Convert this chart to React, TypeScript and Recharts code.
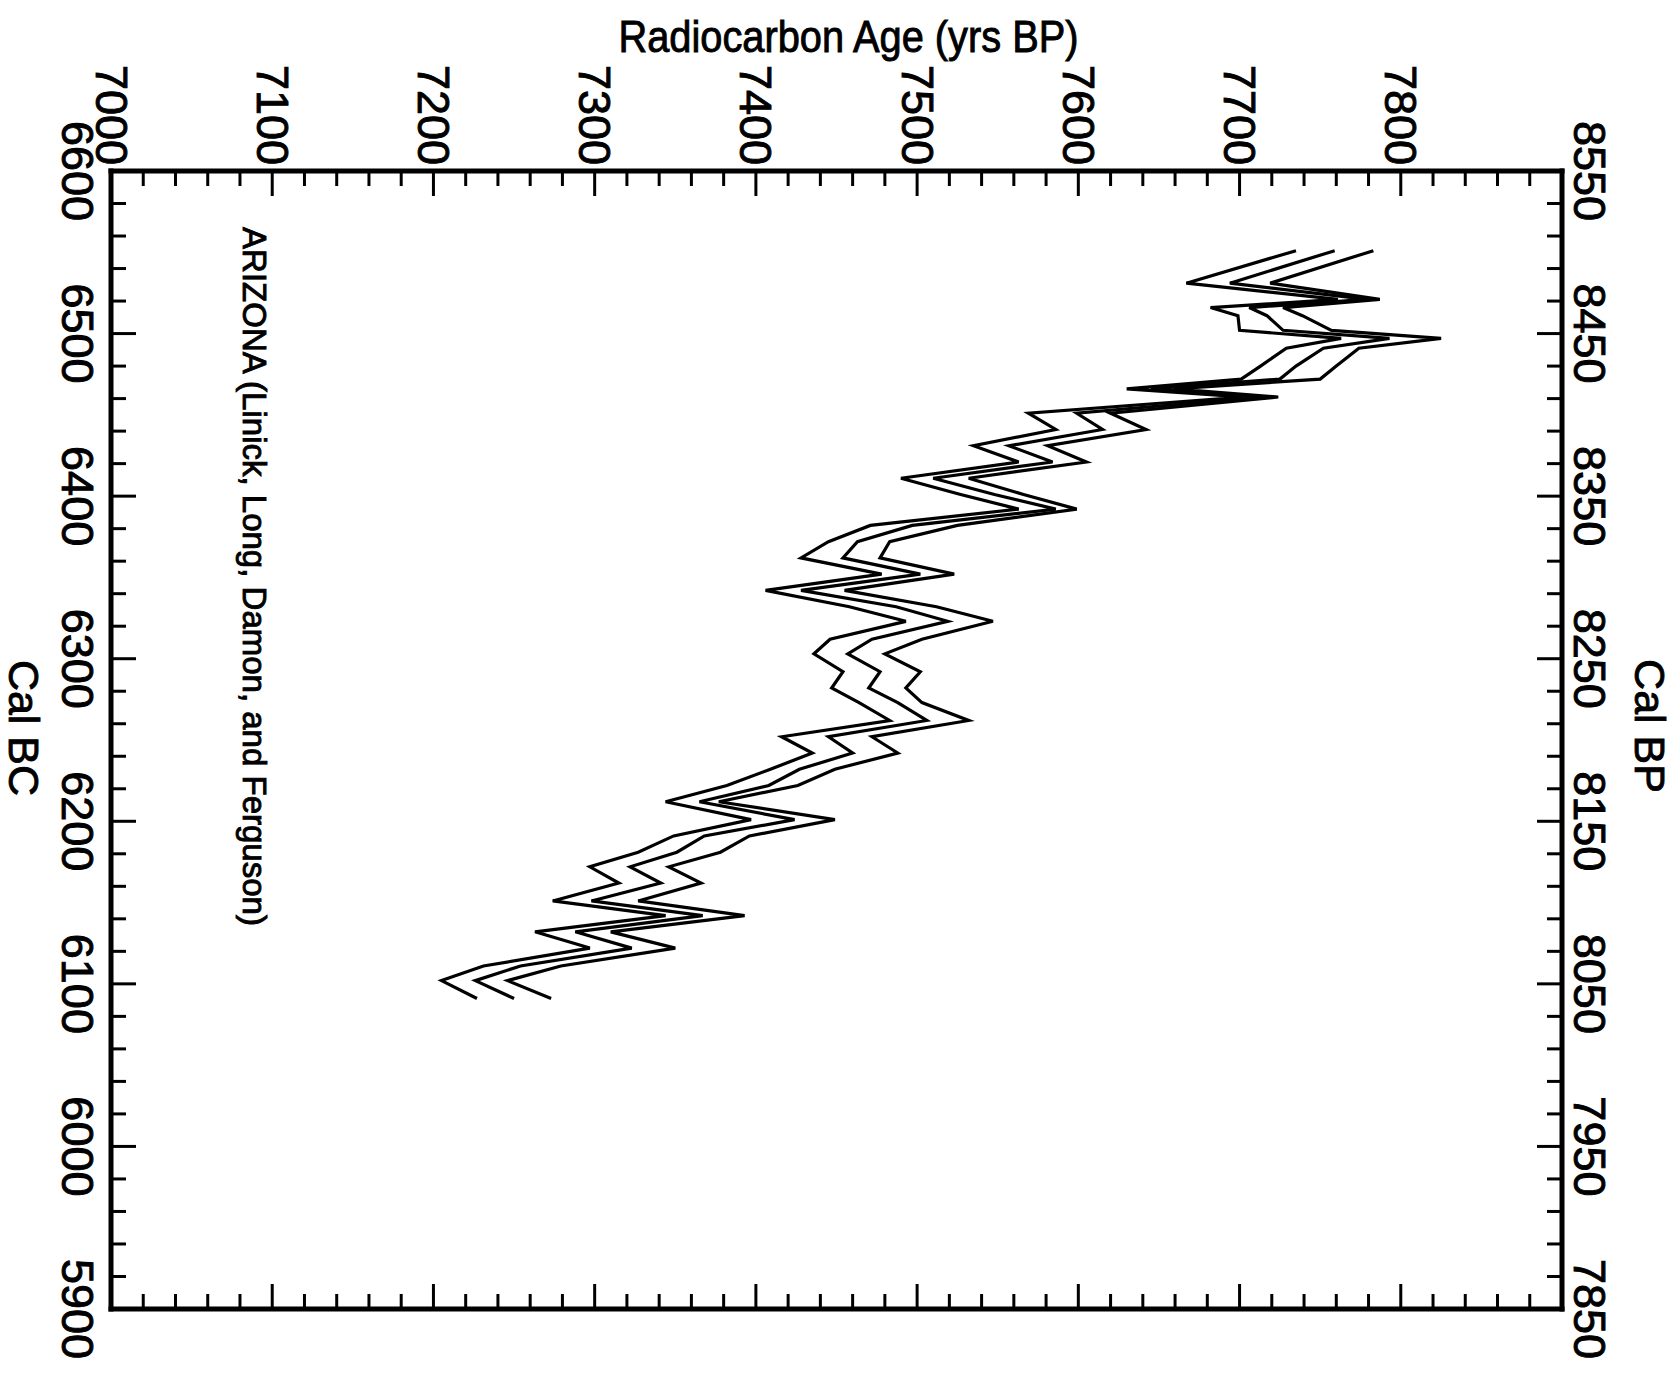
import React from 'react';
import { ScatterChart, Scatter, XAxis, YAxis, ReferenceDot } from 'recharts';

// Calendar age (cal BC) of each plotted vertex
const calBC = [
  6551, 6531, 6521, 6516, 6511, 6502, 6497, 6491, 6480, 6472,
  6466, 6461, 6451, 6441, 6431, 6421, 6411, 6401, 6392, 6382,
  6372, 6362, 6352, 6342, 6332, 6323, 6312, 6303, 6292, 6282,
  6273, 6262, 6252, 6242, 6232, 6222, 6212, 6201, 6191, 6181,
  6172, 6162, 6151, 6142, 6132, 6122, 6111, 6102, 6091,
];

// Radiocarbon age (yrs BP): lower envelope, central curve, upper envelope
const c14Low = [
  7735, 7667, 7761, 7682, 7699, 7700, 7763, 7729, 7713, 7701,
  7630, 7702, 7569, 7586, 7535, 7563, 7490, 7527, 7563, 7471,
  7445, 7428, 7478, 7406, 7458, 7493, 7446, 7436, 7454, 7447,
  7464, 7483, 7416, 7435, 7409, 7382, 7344, 7397, 7349, 7327,
  7297, 7315, 7274, 7344, 7263, 7297, 7231, 7205, 7227,
];
const c14Mid = [
  7759, 7694, 7779, 7706, 7717, 7727, 7793, 7752, 7735, 7725,
  7645, 7714, 7599, 7615, 7557, 7584, 7510, 7548, 7586, 7497,
  7463, 7454, 7502, 7428, 7487, 7519, 7472, 7457, 7477, 7470,
  7488, 7506, 7445, 7460, 7427, 7408, 7365, 7424, 7368, 7351,
  7322, 7341, 7298, 7367, 7288, 7323, 7254, 7226, 7250,
];
const c14High = [
  7783, 7719, 7787, 7727, 7739, 7757, 7825, 7774, 7760, 7750,
  7659, 7724, 7620, 7642, 7581, 7605, 7532, 7566, 7599, 7525,
  7483, 7477, 7523, 7455, 7512, 7547, 7503, 7480, 7502, 7493,
  7503, 7532, 7472, 7488, 7449, 7426, 7377, 7449, 7396, 7378,
  7346, 7366, 7327, 7393, 7310, 7350, 7279, 7246, 7273,
];

// Labelled (major) tick values
const c14Labels = [7000, 7100, 7200, 7300, 7400, 7500, 7600, 7700, 7800];
const bcLabels = [6600, 6500, 6400, 6300, 6200, 6100, 6000, 5900];
const bpLabels = [8550, 8450, 8350, 8250, 8150, 8050, 7950, 7850];

const c14Domain: [number, number] = [7000, 7900];
const bcDomain: [number, number] = [5900, 6600];
const bpDomain: [number, number] = [7850, 8550];

const stepTicks = (lo: number, hi: number, step: number) => {
  const out: number[] = [];
  for (let v = lo; v <= hi + 1e-9; v += step) out.push(v);
  return out;
};
const c14Ticks = stepTicks(7000, 7900, 20);
const bcTicks = stepTicks(5900, 6600, 20);
const bpTicks = stepTicks(7850, 8550, 20);

const toSeries = (vals: number[]) => calBC.map((bc, i) => ({ bc, c14: vals[i] }));
const lowData = toSeries(c14Low);
const midData = toSeries(c14Mid);
const highData = toSeries(c14High);
const dummyData = [{ c14: 7450, bp: 8200 }];

const FONT = "'Liberation Sans', Arial, Helvetica, sans-serif";
const MAJOR = 25;
const MINOR = 15;
const TICK_W = 3;
const TICK_FS = 45;
const TEXT_STROKE = 0.9;

const isMajorC14 = (v: number) => v % 100 === 0;
const isMajorBC = (v: number) => v % 100 === 0;
const isMajorBP = (v: number) => (v - 7850) % 100 === 0;

const textProps = {
  fontFamily: FONT,
  fill: '#000',
  stroke: '#000',
  strokeWidth: TEXT_STROKE,
};

const TopTick = (props: any) => {
  const { x, y, payload } = props;
  const v = payload.value;
  const major = isMajorC14(v);
  const ty = y - 6;
  return (
    <g>
      <line x1={x} y1={y} x2={x} y2={y + (major ? MAJOR : MINOR)} stroke="#000" strokeWidth={TICK_W} />
      {major && c14Labels.includes(v) && (
        <text
          x={x}
          y={ty}
          transform={`rotate(90 ${x} ${ty})`}
          textAnchor="end"
          dominantBaseline="central"
          fontSize={TICK_FS}
          {...textProps}
        >
          {v}
        </text>
      )}
    </g>
  );
};

const BottomTick = (props: any) => {
  const { x, y, payload } = props;
  const major = isMajorC14(payload.value);
  return <line x1={x} y1={y} x2={x} y2={y - (major ? MAJOR : MINOR)} stroke="#000" strokeWidth={TICK_W} />;
};

const LeftTick = (props: any) => {
  const { x, y, payload } = props;
  const v = payload.value;
  const major = isMajorBC(v);
  const tx = x - 34;
  return (
    <g>
      <line x1={x} y1={y} x2={x + (major ? MAJOR : MINOR)} y2={y} stroke="#000" strokeWidth={TICK_W} />
      {major && bcLabels.includes(v) && (
        <text
          x={tx}
          y={y}
          transform={`rotate(90 ${tx} ${y})`}
          textAnchor="middle"
          dominantBaseline="central"
          fontSize={TICK_FS}
          {...textProps}
        >
          {v}
        </text>
      )}
    </g>
  );
};

const RightTick = (props: any) => {
  const { x, y, payload } = props;
  const v = payload.value;
  const major = isMajorBP(v);
  const tx = x + 27;
  return (
    <g>
      <line x1={x} y1={y} x2={x - (major ? MAJOR : MINOR)} y2={y} stroke="#000" strokeWidth={TICK_W} />
      {major && bpLabels.includes(v) && (
        <text
          x={tx}
          y={y}
          transform={`rotate(90 ${tx} ${y})`}
          textAnchor="middle"
          dominantBaseline="central"
          fontSize={TICK_FS}
          {...textProps}
        >
          {v}
        </text>
      )}
    </g>
  );
};

const TitleLabel = (props: any) => {
  const vb = props.viewBox || { x: 111, y: 0, width: 1451, height: 171 };
  return (
    <text
      x={vb.x + vb.width / 2 + 12}
      y={52}
      textAnchor="middle"
      fontSize={44}
      textLength={460}
      lengthAdjust="spacingAndGlyphs"
      {...textProps}
    >
      Radiocarbon Age (yrs BP)
    </text>
  );
};

const CalBCLabel = (props: any) => {
  const vb = props.viewBox || { x: 0, y: 171, width: 111, height: 1138 };
  const cx = 24;
  const cy = vb.y + vb.height / 2 - 12;
  return (
    <text
      x={cx}
      y={cy}
      transform={`rotate(90 ${cx} ${cy})`}
      textAnchor="middle"
      dominantBaseline="central"
      fontSize={43}
      {...textProps}
    >
      Cal BC
    </text>
  );
};

const CalBPLabel = (props: any) => {
  const vb = props.viewBox || { x: 1562, y: 171, width: 115, height: 1138 };
  const cx = vb.x + 88;
  const cy = vb.y + vb.height / 2 - 14;
  return (
    <text
      x={cx}
      y={cy}
      transform={`rotate(90 ${cx} ${cy})`}
      textAnchor="middle"
      dominantBaseline="central"
      fontSize={43}
      {...textProps}
    >
      Cal BP
    </text>
  );
};

const SourceLabel = (props: any) => {
  const vb = props.viewBox || { x: 253, y: 227 };
  const x = vb.x;
  const y = vb.y;
  return (
    <text
      x={x}
      y={y}
      transform={`rotate(90 ${x} ${y})`}
      textAnchor="start"
      dominantBaseline="central"
      fontSize={33}
      {...textProps}
    >
      ARIZONA (Linick, Long, Damon, and Ferguson)
    </text>
  );
};

const NoShape = () => <g />;

const axisLine = { stroke: '#000', strokeWidth: 5, strokeLinecap: 'square' as const };
const lineStyle = { stroke: '#000', strokeWidth: 3.2, strokeLinejoin: 'miter' as const, fill: 'none' };

export default function App() {
  return (
    <div style={{ position: 'absolute', left: 0, top: 0, width: 1677, height: 1373, background: '#fff' }}>
      <ScatterChart width={1677} height={1373} margin={{ top: 0, right: 0, bottom: 0, left: 0 }}>
        <XAxis
          xAxisId="top"
          orientation="top"
          type="number"
          dataKey="c14"
          domain={c14Domain}
          allowDataOverflow
          ticks={c14Ticks}
          interval={0}
          height={171}
          tickSize={0}
          tickMargin={0}
          tickLine={false}
          axisLine={axisLine}
          tick={TopTick}
          label={TitleLabel}
        />
        <XAxis
          xAxisId="bottom"
          orientation="bottom"
          type="number"
          dataKey="c14"
          domain={c14Domain}
          allowDataOverflow
          ticks={c14Ticks}
          interval={0}
          height={64}
          tickSize={0}
          tickMargin={0}
          tickLine={false}
          axisLine={axisLine}
          tick={BottomTick}
        />
        <YAxis
          yAxisId="left"
          orientation="left"
          type="number"
          dataKey="bc"
          domain={bcDomain}
          allowDataOverflow
          ticks={bcTicks}
          interval={0}
          width={111}
          tickSize={0}
          tickMargin={0}
          tickLine={false}
          axisLine={axisLine}
          tick={LeftTick}
          label={CalBCLabel}
        />
        <YAxis
          yAxisId="right"
          orientation="right"
          type="number"
          dataKey="bp"
          domain={bpDomain}
          allowDataOverflow
          ticks={bpTicks}
          interval={0}
          width={115}
          tickSize={0}
          tickMargin={0}
          tickLine={false}
          axisLine={axisLine}
          tick={RightTick}
          label={CalBPLabel}
        />
        <Scatter xAxisId="bottom" yAxisId="right" data={dummyData} shape={NoShape} isAnimationActive={false} />
        <Scatter xAxisId="top" yAxisId="left" data={lowData} line={lineStyle} lineType="joint" shape={NoShape} isAnimationActive={false} />
        <Scatter xAxisId="top" yAxisId="left" data={midData} line={lineStyle} lineType="joint" shape={NoShape} isAnimationActive={false} />
        <Scatter xAxisId="top" yAxisId="left" data={highData} line={lineStyle} lineType="joint" shape={NoShape} isAnimationActive={false} />
        <ReferenceDot
          xAxisId="top"
          yAxisId="left"
          x={7089}
          y={6565.5}
          r={0}
          fill="none"
          stroke="none"
          label={SourceLabel}
        />
      </ScatterChart>
    </div>
  );
}
